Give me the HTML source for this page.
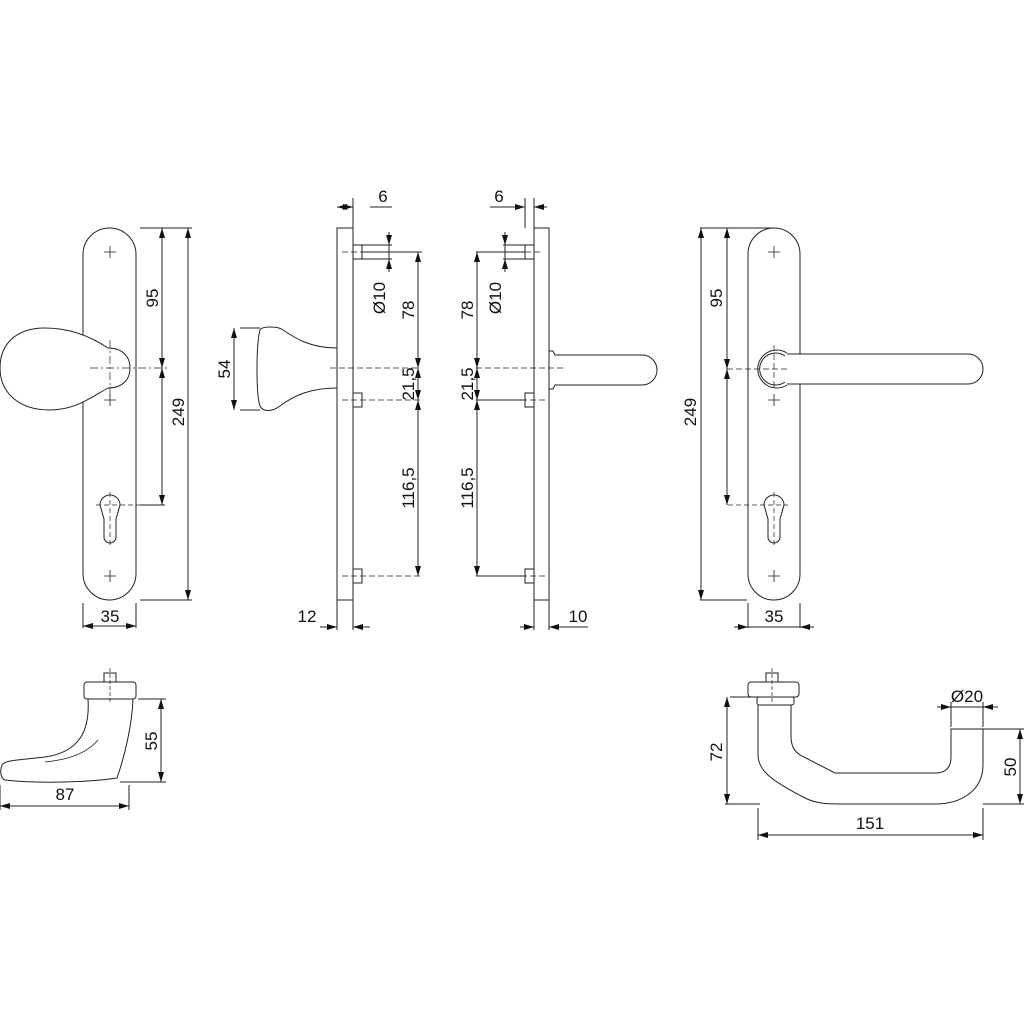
<!DOCTYPE html>
<html><head><meta charset="utf-8"><style>
html,body{margin:0;padding:0;background:#fff;width:1024px;height:1024px;overflow:hidden}
svg text{font-family:"Liberation Sans",sans-serif;font-size:17px;fill:#111}
</style></head><body>
<svg width="1024" height="1024" viewBox="0 0 1024 1024" xmlns="http://www.w3.org/2000/svg">
<defs>
<marker id="a" viewBox="0 0 10 6" refX="10" refY="3" markerWidth="10" markerHeight="6" orient="auto-start-reverse" markerUnits="userSpaceOnUse"><path d="M0,0L10,3L0,6z" fill="#111"/></marker>
</defs>
<g fill="none" stroke="#222" stroke-width="1">
<!-- LEFT PLATE -->
<rect x="83" y="228" width="53" height="372" rx="26.5"/>
<path d="M104,252h12M110,246v12M104,400h12M110,394v12M104,576h12M110,570v12" stroke-width="0.8"/>
<path d="M100,505a10,10 0 1 1 20,0l-4,14v18a6,6 0 0 1-12,0v-18l-4-14" />
<path d="M110,492v55M96,505h45" stroke-dasharray="5,3" stroke-width="0.7"/>
<path d="M108,348C90,336 70,328 45,328C15,328 0,345 0,368C0,392 18,410 50,410C75,410 90,398 108,388C122,388 130,380 130,368C130,356 122,348 108,348Z" fill="#fff"/>
<path d="M90,368h80M110,340v60" stroke-dasharray="8,3,2,3" stroke-width="0.7"/>
<path d="M140,228h52M140,600h52M140,505h25"/>
<line x1="162" y1="228" x2="162" y2="368" marker-start="url(#a)" marker-end="url(#a)"/>
<line x1="162" y1="368" x2="162" y2="505" marker-start="url(#a)" marker-end="url(#a)"/>
<line x1="188" y1="228" x2="188" y2="600" marker-start="url(#a)" marker-end="url(#a)"/>
<path d="M83,603v25M136,603v25"/>
<line x1="83" y1="626" x2="136" y2="626" marker-start="url(#a)" marker-end="url(#a)"/>

<!-- SIDE VIEW KNOB -->
<rect x="337" y="228" width="16" height="372"/>
<path d="M337,348C310,348 295,338 283,330C278,326 262,326 260,330C256,345 256,395 260,406C263,412 272,412 280,406C293,396 310,388 337,388"/>
<path d="M353,245h9v14h-9M353,393h9v14h-9M353,569h9v14h-9"/>
<path d="M342,252h50M342,400h80M342,576h80M330,368h90" stroke-dasharray="6,3" stroke-width="0.7"/>
<path d="M362,252h60"/>
<path d="M353,228v-30M337,600v30M353,600v30"/>
<line x1="337" y1="207" x2="353" y2="207" marker-start="url(#a)" marker-end="url(#a)"/>
<path d="M370,207h22"/>
<line x1="389" y1="232" x2="389" y2="245" marker-end="url(#a)"/>
<line x1="389" y1="272" x2="389" y2="259" marker-end="url(#a)"/>
<path d="M389,245v14M362,245h30M362,259h30"/>
<line x1="418" y1="252" x2="418" y2="368" marker-start="url(#a)" marker-end="url(#a)"/>
<line x1="418" y1="368" x2="418" y2="400" marker-start="url(#a)" marker-end="url(#a)"/>
<line x1="418" y1="400" x2="418" y2="576" marker-start="url(#a)" marker-end="url(#a)"/>
<line x1="320" y1="627" x2="337" y2="627" marker-end="url(#a)"/>
<line x1="370" y1="627" x2="353" y2="627" marker-end="url(#a)"/>
<path d="M240,328h20M240,410h20"/>
<line x1="234" y1="328" x2="234" y2="410" marker-start="url(#a)" marker-end="url(#a)"/>

<!-- SIDE VIEW LEVER -->
<rect x="534" y="228" width="15" height="372"/>
<path d="M534,245h-9v14h9M534,393h-9v14h9M534,569h-9v14h9"/>
<path d="M549,351h4l2,4h87a15,15 0 0 1 0,30h-87l-2,4h-4z" fill="#fff"/>
<path d="M480,252h60M476,400h70M476,576h70M476,368h88" stroke-dasharray="6,3" stroke-width="0.7"/>
<path d="M476,252h49M476,400h49M476,576h49"/>
<path d="M525,228v-30M534,600v30M549,600v30M534,228v-30"/>
<line x1="512" y1="207" x2="525" y2="207" marker-end="url(#a)"/>
<line x1="547" y1="207" x2="534" y2="207" marker-end="url(#a)"/>
<path d="M490,207h35"/>
<line x1="505" y1="232" x2="505" y2="245" marker-end="url(#a)"/>
<line x1="505" y1="272" x2="505" y2="259" marker-end="url(#a)"/>
<path d="M505,245v14M503,245h22M503,259h22"/>
<line x1="477" y1="252" x2="477" y2="368" marker-start="url(#a)" marker-end="url(#a)"/>
<line x1="477" y1="368" x2="477" y2="400" marker-start="url(#a)" marker-end="url(#a)"/>
<line x1="477" y1="400" x2="477" y2="576" marker-start="url(#a)" marker-end="url(#a)"/>
<line x1="520" y1="627" x2="534" y2="627" marker-end="url(#a)"/>
<line x1="563" y1="627" x2="549" y2="627" marker-end="url(#a)"/>
<path d="M563,627h25"/>

<!-- RIGHT PLATE -->
<rect x="748" y="228" width="52" height="372" rx="26"/>
<path d="M768,252h12M774,246v12M768,400h12M774,394v12M768,576h12M774,570v12" stroke-width="0.8"/>
<path d="M764,505a10,10 0 1 1 20,0l-4,14v18a6,6 0 0 1-12,0v-18l-4-14"/>
<path d="M774,492v55M728,505h60" stroke-dasharray="5,3" stroke-width="0.7"/>
<path d="M784,354h184a15,15 0 0 1 0,30h-184" fill="#fff"/>
<path d="M787,353A19,19 0 1 0 787,385" fill="#fff"/>
<path d="M785,356A16,16 0 1 0 785,382"/>
<path d="M774,345v45M727,369h62" stroke-dasharray="6,3" stroke-width="0.7"/>
<path d="M700,228h75M700,600h47"/>
<line x1="701" y1="228" x2="701" y2="600" marker-start="url(#a)" marker-end="url(#a)"/>
<line x1="727" y1="228" x2="727" y2="369" marker-start="url(#a)" marker-end="url(#a)"/>
<line x1="727" y1="369" x2="727" y2="505" marker-start="url(#a)" marker-end="url(#a)"/>
<path d="M748,603v25M800,603v25"/>
<line x1="734" y1="627" x2="748" y2="627" marker-end="url(#a)"/>
<line x1="814" y1="627" x2="800" y2="627" marker-end="url(#a)"/>
<path d="M748,627h52"/>

<!-- BOTTOM LEFT -->
<rect x="104" y="673" width="12" height="9"/>
<rect x="84" y="682" width="52" height="17" rx="3"/>
<path d="M110,668v36" stroke-dasharray="4,2" stroke-width="0.7"/>
<path d="M88,699C90,730 80,752 45,757C20,760 5,760 2,765C0,770 0,778 5,780C40,784 90,782 117,778C125,755 132,725 133,699"/>
<path d="M98,740C85,755 65,760 45,762" stroke-width="0.8"/>
<path d="M138,699h28M120,782h46"/>
<line x1="161" y1="699" x2="161" y2="782" marker-start="url(#a)" marker-end="url(#a)"/>
<path d="M0,785v25M129,785v25"/>
<line x1="0" y1="806" x2="129" y2="806" marker-start="url(#a)" marker-end="url(#a)"/>

<!-- BOTTOM RIGHT -->
<rect x="766" y="673" width="12" height="9"/>
<rect x="748" y="682" width="51" height="15" rx="3"/>
<rect x="757" y="697" width="37" height="8" rx="2"/>
<path d="M772,668v36" stroke-dasharray="4,2" stroke-width="0.7"/>
<path d="M758,705V755C758,770 770,780 805,798C815,803 825,804 840,804H935C962,804 983,790 983,765V729H951V757C951,768 945,773 935,773H835L800,755C793,750 791,745 791,735V705"/>
<path d="M730,697h25M760,804h-35M983,729h42M983,804h42"/>
<line x1="727" y1="697" x2="727" y2="804" marker-start="url(#a)" marker-end="url(#a)"/>
<line x1="1020" y1="729" x2="1020" y2="804" marker-start="url(#a)" marker-end="url(#a)"/>
<path d="M758,808v32M983,808v32"/>
<line x1="758" y1="835" x2="983" y2="835" marker-start="url(#a)" marker-end="url(#a)"/>
<path d="M951,727v-25M983,727v-25"/>
<line x1="937" y1="707" x2="951" y2="707" marker-end="url(#a)"/>
<line x1="998" y1="707" x2="983" y2="707" marker-end="url(#a)"/>
<path d="M951,707h32"/>
</g>
<g>
<text x="110" y="622" text-anchor="middle">35</text>
<text transform="translate(158,298) rotate(-90)" text-anchor="middle">95</text>
<text transform="translate(184,412) rotate(-90)" text-anchor="middle">249</text>
<text x="383" y="202" text-anchor="middle">6</text>
<text transform="translate(385,298) rotate(-90)" text-anchor="middle">Ø10</text>
<text transform="translate(414,310) rotate(-90)" text-anchor="middle">78</text>
<text transform="translate(414,384) rotate(-90)" text-anchor="middle">21,5</text>
<text transform="translate(414,488) rotate(-90)" text-anchor="middle">116,5</text>
<text x="307" y="622" text-anchor="middle">12</text>
<text transform="translate(230,369) rotate(-90)" text-anchor="middle">54</text>
<text x="499" y="202" text-anchor="middle">6</text>
<text transform="translate(501,298) rotate(-90)" text-anchor="middle">Ø10</text>
<text transform="translate(473,310) rotate(-90)" text-anchor="middle">78</text>
<text transform="translate(473,384) rotate(-90)" text-anchor="middle">21,5</text>
<text transform="translate(473,488) rotate(-90)" text-anchor="middle">116,5</text>
<text x="578" y="622" text-anchor="middle">10</text>
<text transform="translate(722,298) rotate(-90)" text-anchor="middle">95</text>
<text transform="translate(696,412) rotate(-90)" text-anchor="middle">249</text>
<text x="774" y="622" text-anchor="middle">35</text>
<text transform="translate(157,741) rotate(-90)" text-anchor="middle">55</text>
<text x="65" y="800" text-anchor="middle">87</text>
<text transform="translate(722,752) rotate(-90)" text-anchor="middle">72</text>
<text transform="translate(1016,767) rotate(-90)" text-anchor="middle">50</text>
<text x="870" y="829" text-anchor="middle">151</text>
<text x="967" y="702" text-anchor="middle">Ø20</text>
</g>
</svg>
</body></html>
